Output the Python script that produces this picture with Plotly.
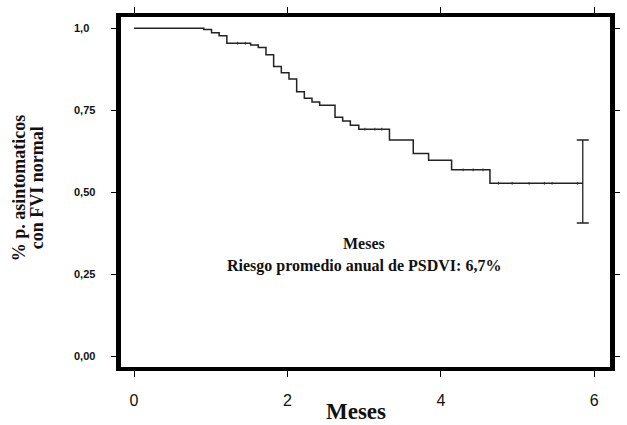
import plotly.graph_objects as go

# Kaplan-Meier step data (months, survival proportion)
times = [0, 0.91, 1.01, 1.11, 1.21, 1.52, 1.62, 1.72, 1.82, 1.92, 2.02, 2.12,
         2.22, 2.32, 2.42, 2.62, 2.72, 2.82, 2.93, 3.33, 3.64, 3.84, 4.14, 4.64, 5.85]
surv = [1.0, 0.996, 0.986, 0.977, 0.954, 0.949, 0.941, 0.919, 0.883, 0.864, 0.845, 0.806,
        0.786, 0.775, 0.765, 0.728, 0.717, 0.704, 0.692, 0.659, 0.618, 0.597, 0.568, 0.527, 0.527]

# censored observations (tiny tick marks)
cens_t = [1.35, 1.45, 3.01, 3.14, 3.23, 4.29, 4.42, 4.55, 4.75, 4.93, 5.15, 5.35, 5.45, 5.78]
cens_s = [0.954, 0.954, 0.692, 0.692, 0.692, 0.568, 0.568, 0.568, 0.527, 0.527, 0.527, 0.527, 0.527, 0.527]

# confidence interval at end of follow-up
ci_t = [5.85]
ci_s = [0.527]
ci_hi = [0.659]
ci_lo = [0.406]

x_ticks = [0, 2, 4, 6]
x_ticklabels = ["0", "2", "4", "6"]
y_ticks = [0, 0.25, 0.5, 0.75, 1.0]
y_ticklabels = ["0,00", "0,25", "0,50", "0,75", "1,0"]
y_title = ["% p. asintomaticos", "con FVI normal"]

serif = "Liberation Serif, Times New Roman, serif"
sans = "Liberation Sans, Arial, sans-serif"

fig = go.Figure()
fig.add_trace(go.Scatter(x=times, y=surv, mode="lines", line_shape="hv",
                         line=dict(color="#222222", width=1.5), showlegend=False,
                         hoverinfo="skip"))
fig.add_trace(go.Scatter(x=cens_t, y=cens_s, mode="markers",
                         marker=dict(symbol="line-ns", size=2,
                                     line=dict(color="#333333", width=1)),
                         showlegend=False, hoverinfo="skip"))
fig.add_trace(go.Scatter(x=ci_t, y=ci_s, mode="markers",
                         marker=dict(size=1, color="rgba(0,0,0,0)"),
                         error_y=dict(type="data", symmetric=False,
                                      array=[h - s for h, s in zip(ci_hi, ci_s)],
                                      arrayminus=[s - l for l, s in zip(ci_lo, ci_s)],
                                      color="#222222", thickness=1.3, width=6),
                         showlegend=False, hoverinfo="skip"))

annotations = []
for v, t in zip(y_ticks, y_ticklabels):
    annotations.append(dict(x=0, xref="paper", xshift=-49, xanchor="left",
                            y=v, yref="y", yanchor="middle", text="<b>" + t + "</b>",
                            showarrow=False,
                            font=dict(family=sans, size=11, color="#111111")))
annotations.append(dict(x=2.9, xref="x", y=0, yref="paper", yshift=-44, yanchor="middle",
                        text="<b>Meses</b>", showarrow=False,
                        font=dict(family=serif, size=23, color="#111111")))
for shift, line in zip([-102, -84], y_title):
    annotations.append(dict(x=0, xref="paper", xshift=shift, y=0.511, yref="paper",
                            xanchor="center", yanchor="middle",
                            text="<b>" + line + "</b>", textangle=-90,
                            showarrow=False,
                            font=dict(family=serif, size=18, color="#111111")))
annotations.append(dict(x=3.0, xref="x", y=0.342, yref="y", yanchor="middle",
                        text="<b>Meses</b>", showarrow=False,
                        font=dict(family=serif, size=16, color="#111111")))
annotations.append(dict(x=3.0, xref="x", y=0.274, yref="y", yanchor="middle",
                        text="<b>Riesgo promedio anual de PSDVI: 6,7%</b>", showarrow=False,
                        font=dict(family=serif, size=16, color="#111111")))

fig.update_layout(
    width=627, height=425,
    margin=dict(l=121, r=7, t=11, b=58),
    paper_bgcolor="white", plot_bgcolor="white",
    annotations=annotations,
    xaxis=dict(range=[-0.17, 6.205], tickvals=x_ticks, ticktext=x_ticklabels,
               showgrid=False, zeroline=False, showline=True, mirror="ticks",
               linecolor="black", linewidth=4, ticks="outside", ticklen=6,
               tickcolor="black", tickwidth=1, ticklabelstandoff=10,
               tickfont=dict(family=sans, size=16, color="#111111")),
    yaxis=dict(range=[-0.033, 1.034], tickvals=y_ticks, showticklabels=False,
               showgrid=False, zeroline=False, showline=True, mirror="ticks",
               linecolor="black", linewidth=5, ticks="outside", ticklen=5,
               tickcolor="black", tickwidth=1),
)

fig.write_html("out.html")
